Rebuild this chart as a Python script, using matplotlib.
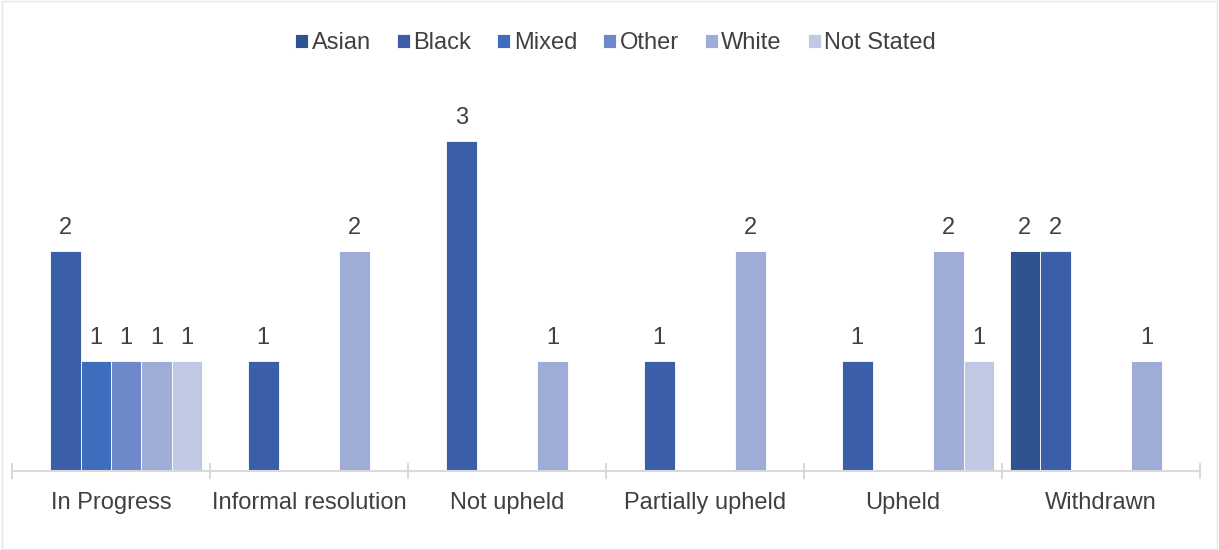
import numpy as np
import matplotlib.pyplot as plt

plt.rcParams['font.family'] = ['Liberation Sans', 'DejaVu Sans']

categories = ["In Progress", "Informal resolution", "Not upheld", "Partially upheld", "Upheld", "Withdrawn"]
series = ["Asian", "Black", "Mixed", "Other", "White", "Not Stated"]
colors = ["#2f5290", "#3a5ea7", "#3f6dbd", "#6e89c9", "#9facd7", "#c0c9e4"]

asian = [0, 0, 0, 0, 0, 2]
black = [2, 1, 3, 1, 1, 2]
mixed = [1, 0, 0, 0, 0, 0]
other = [1, 0, 0, 0, 0, 0]
white = [1, 2, 1, 2, 2, 1]
not_stated = [1, 0, 0, 0, 1, 0]
values = [asian, black, mixed, other, white, not_stated]

fs = 17
txt = "#404040"

fig = plt.figure(figsize=(12.19, 5.5), dpi=100)
ax = fig.add_axes([12 / 1219, 1 - 471 / 550, 1188 / 1219, 440 / 550])

x = np.arange(len(categories))
w = 0.154
handles = []
for j, (name, vals, c) in enumerate(zip(series, values, colors)):
    pos = x + (j - 2.5) * w
    v = np.array(vals, dtype=float)
    mask = v > 0
    b = ax.bar(pos[mask], v[mask], width=w, color=c, edgecolor="white", linewidth=0.6, label=name)
    handles.append(b)
    for px, pv in zip(pos[mask], v[mask]):
        ax.annotate(f"{int(pv)}", (px, pv), xytext=(0, 9), textcoords="offset points",
                    ha="center", va="bottom", fontsize=fs, color=txt)

ax.set_xlim(-0.5, len(categories) - 0.5)
ax.set_ylim(0, 4)
ax.set_yticks([])
for s in ["top", "right", "left"]:
    ax.spines[s].set_visible(False)
ax.spines["bottom"].set_color("#d9d9d9")
ax.spines["bottom"].set_linewidth(1.5)

ax.set_xticks(x)
ax.set_xticklabels(categories, fontsize=fs, color=txt)
ax.tick_params(axis="x", which="major", length=0, pad=15)
ax.set_xticks(np.arange(-0.5, len(categories)), minor=True)
ax.tick_params(axis="x", which="minor", length=12, width=1.5, color="#d9d9d9", direction="inout")

fig.legend(handles=handles, labels=series, loc="center", bbox_to_anchor=(0.5 + 6 / 1219, 1 - 43 / 550),
           ncol=6, frameon=False, fontsize=fs, handlelength=0.55, handleheight=0.55,
           handletextpad=0.15, columnspacing=1.1, labelcolor=txt)

fig.patches.append(plt.Rectangle((0.002, 0.002), 0.996, 0.996, transform=fig.transFigure,
                                 fill=False, edgecolor="#e6e6e6", linewidth=1))

fig.savefig("out.png", dpi=100)
